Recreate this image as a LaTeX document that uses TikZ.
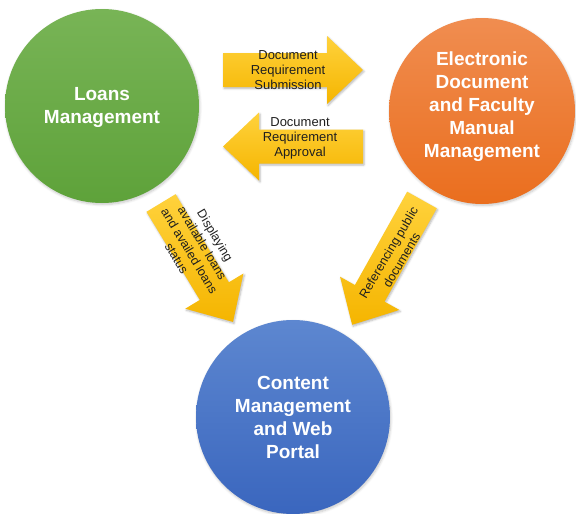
\documentclass[tikz,border=0pt]{standalone}
\usepackage{fontspec}
\setmainfont{Liberation Sans}
\usetikzlibrary{shadows.blur}

\definecolor{loanstop}{HTML}{78B456}
\definecolor{loansbot}{HTML}{5EA23A}
\definecolor{edoctop}{HTML}{F08D50}
\definecolor{edocbot}{HTML}{EA6E1E}
\definecolor{cmstop}{HTML}{5D87D0}
\definecolor{cmsbot}{HTML}{3A66BE}
\definecolor{arrowtop}{HTML}{FFD23C}
\definecolor{arrowbot}{HTML}{F5B500}

\tikzset{
  hub/.style={circle, minimum size=#1, inner sep=0pt,
    blur shadow={shadow xshift=0.8pt, shadow yshift=-1.5pt,
      shadow blur steps=6, shadow opacity=22, shadow blur radius=2.5pt}},
  hubtext/.style={text=white, inner sep=0pt, align=center,
    font=\bfseries\fontsize{19}{23}\selectfont},
  arrowlabel/.style={font=\fontsize{13}{15}\selectfont, align=center,
    text=black!88, inner sep=0pt},
  difflabel/.style={arrowlabel, font=\fontsize{12.5}{15}\selectfont},
  arrowshade/.style={top color=arrowtop, bottom color=arrowbot,
    blur shadow={shadow xshift=1pt, shadow yshift=-1.5pt,
      shadow blur steps=5, shadow opacity=28, shadow blur radius=2pt}},
  % block arrow pointing along local x, tail at the origin, length #1
  pics/blockarrow/.style={code={
    \shade[arrowshade] (0,-17) -- ({#1-36},-17) -- ({#1-36},-34) -- (#1,0)
      -- ({#1-36},34) -- ({#1-36},17) -- (0,17) -- cycle;
  }}
}

\begin{document}
\begin{tikzpicture}[x=1pt, y=-1pt]
  \useasboundingbox (0,0) rectangle (576,514);

  % the three systems
  \node[hub=194pt, top color=loanstop, bottom color=loansbot] (loans)
    at (102,106) {};
  \node[hub=186pt, top color=edoctop, bottom color=edocbot] (edoc)
    at (482,111) {};
  \node[hub=194pt, top color=cmstop, bottom color=cmsbot] (cms)
    at (293,417) {};

  \node[hubtext] (loanstext) at ([yshift=-1pt]loans.center) {Loans\\Management};
  \node[hubtext] (edoctext) at ([yshift=4pt]edoc.center)
    {Electronic\\Document\\and Faculty\\Manual\\Management};
  \node[hubtext] (cmstext) at (cms.center) {Content\\Management\\and Web\\Portal};

  % flows between them
  \path (223,70) pic {blockarrow=140};
  \path (363,146.5) pic[rotate=180] {blockarrow=140};
  \path (161,203) pic[rotate=-58.8] {blockarrow=139};
  \path (422,200) pic[rotate=-119.25] {blockarrow=143};

  % flow labels
  \node[arrowlabel] (submit) at (288,70) {Document\\Requirement\\Submission};
  \node[arrowlabel] (approve) at (300,138) {Document\\Requirement\\Approval};
  \node[difflabel, rotate=-59] (display) at (196,247)
    {Displaying\\available loans\\and availed loans\\status};
  \node[difflabel, rotate=59.5] (refer) at (395,256)
    {Referencing public\\documents};
\end{tikzpicture}
\end{document}
